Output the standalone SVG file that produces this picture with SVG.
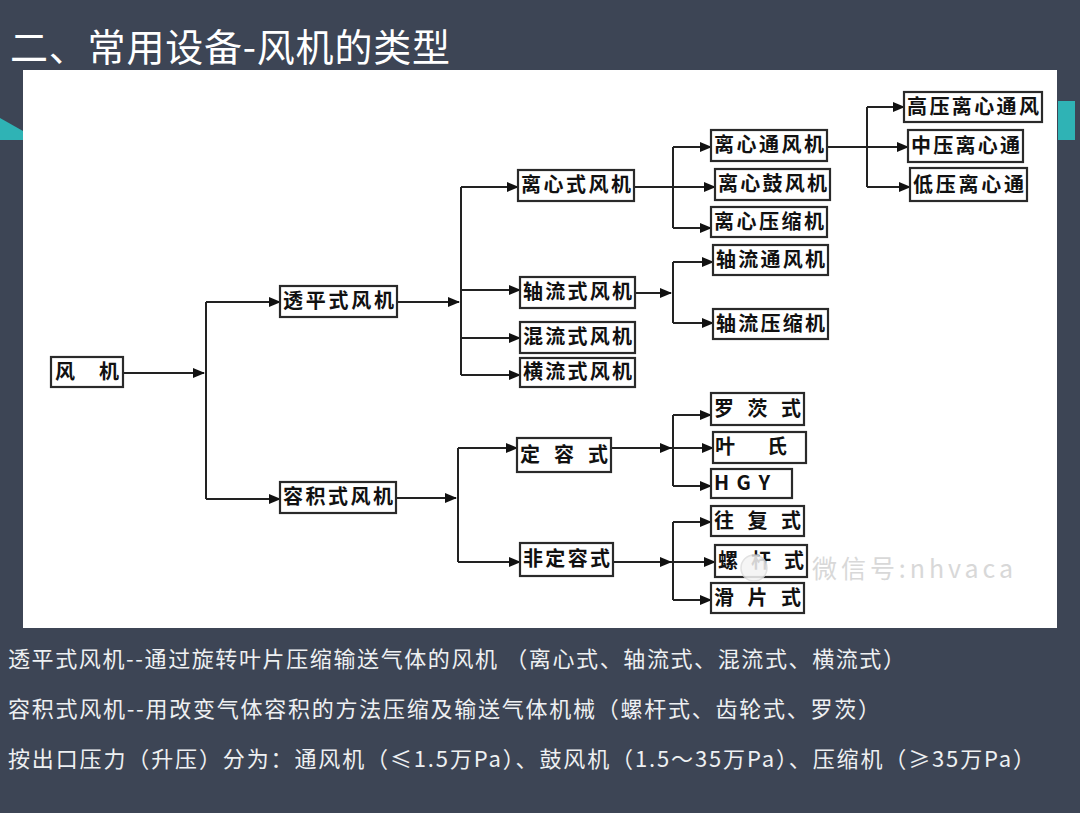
<svg xmlns="http://www.w3.org/2000/svg" width="1080" height="813" viewBox="0 0 1080 813">
<defs>
<style>
.box{fill:#fff;stroke:#2a2a2a;stroke-width:2.2}
.bt{font-family:"Noto Sans CJK SC","Noto Sans",sans-serif;font-size:20px;fill:#111;font-weight:bold}
.ln{fill:none;stroke:#222;stroke-width:2}
.ar{fill:none;stroke:#222;stroke-width:2;marker-end:url(#ah)}
.ft{font-family:"Noto Sans CJK SC","Liberation Sans",sans-serif;font-size:22px;fill:#eef0f2}
</style>
<marker id="ah" markerWidth="12" markerHeight="10" refX="11" refY="5" orient="auto" markerUnits="userSpaceOnUse">
<path d="M0,0 L12,5 L0,10 Z" fill="#111"/>
</marker>
</defs>
<rect width="1080" height="813" fill="#3d4555"/>
<polygon points="0,118 23,131 23,140 0,140" fill="#2fb3b5"/>
<rect x="1058" y="101" width="17" height="39" fill="#2fb3b5"/>
<rect x="23" y="70" width="1034" height="558" fill="#fff"/>
<text x="10" y="61" font-family="Noto Sans CJK SC, sans-serif" font-size="38" fill="#fff" textLength="440">二、常用设备-风机的类型</text>

<g id="connectors">
<path class="ar" d="M123,373 H204"/>
<path class="ln" d="M206,302 V499"/>
<path class="ar" d="M206,302 H280"/>
<path class="ar" d="M206,499 H280"/>
<path class="ar" d="M397,302 H459"/>
<path class="ln" d="M461,187 V375"/>
<path class="ar" d="M461,187 H518"/>
<path class="ar" d="M461,290 H520"/>
<path class="ar" d="M461,338 H520"/>
<path class="ar" d="M461,375 H520"/>
<path class="ar" d="M634,187 H715"/>
<path class="ln" d="M673,147 V228"/>
<path class="ar" d="M673,147 H711"/>
<path class="ar" d="M673,228 H711"/>
<path class="ar" d="M635,293 H671"/>
<path class="ln" d="M673,262 V323"/>
<path class="ar" d="M673,262 H713"/>
<path class="ar" d="M673,323 H713"/>
<path class="ar" d="M827,147 H908"/>
<path class="ln" d="M867,107 V187"/>
<path class="ar" d="M867,107 H904"/>
<path class="ar" d="M867,187 H910"/>
<path class="ar" d="M396,498 H456"/>
<path class="ln" d="M458,448 V562"/>
<path class="ar" d="M458,448 H517"/>
<path class="ar" d="M458,562 H520"/>
<path class="ar" d="M611,448 H671"/>
<path class="ar" d="M671,448 H713"/>
<path class="ln" d="M673,415 V486"/>
<path class="ar" d="M673,415 H711"/>
<path class="ar" d="M673,486 H711"/>
<path class="ar" d="M613,562 H671"/>
<path class="ar" d="M671,562 H715"/>
<path class="ln" d="M673,522 V600"/>
<path class="ar" d="M673,522 H711"/>
<path class="ar" d="M673,600 H711"/>
</g>

<g id="fan"><rect class="box" x="51" y="357" width="72" height="30"/><text class="bt" x="55" y="379" textLength="64">风　机</text></g>
<g id="tp"><rect class="box" x="280" y="286" width="117" height="31"/><text class="bt" x="283" y="308" textLength="111">透平式风机</text></g>
<g id="rj"><rect class="box" x="280" y="482" width="116" height="31"/><text class="bt" x="283" y="504" textLength="110">容积式风机</text></g>
<g id="lxs"><rect class="box" x="518" y="170" width="116" height="31"/><text class="bt" x="521" y="192" textLength="110">离心式风机</text></g>
<g id="zls"><rect class="box" x="520" y="277" width="115" height="31"/><text class="bt" x="523" y="299" textLength="109">轴流式风机</text></g>
<g id="hls"><rect class="box" x="520" y="322" width="115" height="31"/><text class="bt" x="523" y="344" textLength="109">混流式风机</text></g>
<g id="hengls"><rect class="box" x="520" y="358" width="115" height="29"/><text class="bt" x="523" y="379" textLength="109">横流式风机</text></g>
<g id="lxtf"><rect class="box" x="711" y="130" width="116" height="31"/><text class="bt" x="714" y="152" textLength="110">离心通风机</text></g>
<g id="lxgf"><rect class="box" x="715" y="169" width="115" height="31"/><text class="bt" x="718" y="191" textLength="109">离心鼓风机</text></g>
<g id="lxys"><rect class="box" x="711" y="207" width="116" height="30"/><text class="bt" x="714" y="229" textLength="110">离心压缩机</text></g>
<g id="zltf"><rect class="box" x="713" y="245" width="115" height="30"/><text class="bt" x="716" y="267" textLength="109">轴流通风机</text></g>
<g id="zlys"><rect class="box" x="713" y="309" width="115" height="30"/><text class="bt" x="716" y="331" textLength="109">轴流压缩机</text></g>
<g id="gy"><rect class="box" x="904" y="92" width="138" height="30"/><text class="bt" x="907" y="114" textLength="132">高压离心通风</text></g>
<g id="zy"><rect class="box" x="908" y="130" width="115" height="32"/><text class="bt" x="911" y="153" textLength="109">中压离心通</text></g>
<g id="dy"><rect class="box" x="910" y="168" width="117" height="33"/><text class="bt" x="913" y="192" textLength="111">低压离心通</text></g>
<g id="dr"><rect class="box" x="517" y="438" width="94" height="34"/><text class="bt" x="520" y="462" textLength="88">定 容 式</text></g>
<g id="fdr"><rect class="box" x="520" y="543" width="93" height="33"/><text class="bt" x="523" y="566" textLength="87">非定容式</text></g>
<g id="lc"><rect class="box" x="711" y="393" width="93" height="32"/><text class="bt" x="714" y="416" textLength="87">罗 茨 式</text></g>
<g id="ys"><rect class="box" x="713" y="432" width="93" height="31"/><text class="bt" x="715" y="454" textLength="72">叶　氏</text></g>
<g id="hgy"><rect class="box" x="711" y="469" width="81" height="29"/><text class="bt" x="714" y="490" textLength="56" font-family="Liberation Mono, monospace" font-weight="normal">H G Y</text></g>
<g id="wf"><rect class="box" x="711" y="506" width="93" height="30"/><text class="bt" x="714" y="528" textLength="87">往 复 式</text></g>
<g id="lg"><rect class="box" x="715" y="545" width="92" height="32"/><text class="bt" x="718" y="568" textLength="86">螺 杆 式</text></g>
<g id="hp"><rect class="box" x="711" y="583" width="93" height="30"/><text class="bt" x="714" y="605" textLength="87">滑 片 式</text></g>

<g id="watermark" opacity="0.85">
<circle cx="754" cy="568" r="13" fill="#f4f4f4" stroke="#dddddd" stroke-width="1.5"/>
<text x="812" y="578" font-family="Noto Sans CJK SC, sans-serif" font-size="25" fill="#d2d2d2" textLength="201">微信号:nhvaca</text>
</g>

<text class="ft" x="8" y="667" textLength="897">透平式风机--通过旋转叶片压缩输送气体的风机 （离心式、轴流式、混流式、横流式）</text>
<text class="ft" x="8" y="717" textLength="872">容积式风机--用改变气体容积的方法压缩及输送气体机械（螺杆式、齿轮式、罗茨）</text>
<text class="ft" x="8" y="767" textLength="1027">按出口压力（升压）分为：通风机（≤1.5万Pa）、鼓风机（1.5～35万Pa）、压缩机（≥35万Pa）</text>
</svg>
